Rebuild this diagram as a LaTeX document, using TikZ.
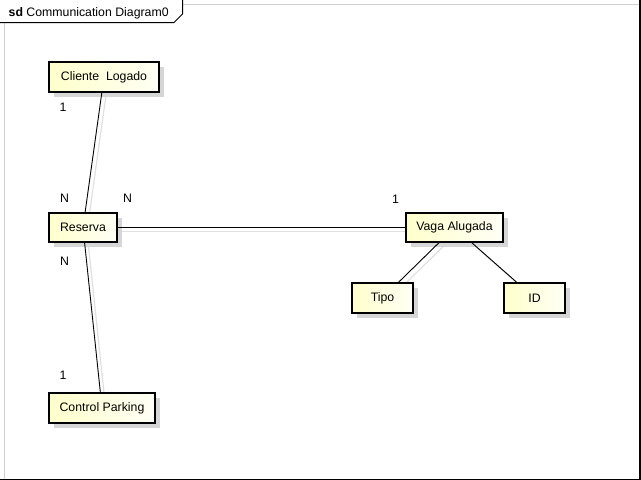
\documentclass[tikz,border=0pt]{standalone}
\usepackage{fontspec}
\setmainfont{Liberation Sans}
\usetikzlibrary{shadows,backgrounds}
\tikzset{
  umlbox/.style={draw=black, line width=1.8pt, left color=yellow!20, right color=yellow!4,
    inner sep=0pt, font=\fontsize{12.3}{14}\selectfont,
    drop shadow={shadow xshift=5pt, shadow yshift=-5pt, fill=black!16, opacity=1}},
  conn/.style={draw=black, line width=0.9pt},
  connshadow/.style={draw=black!12, line width=1.2pt},
  mult/.style={font=\fontsize{12.3}{14}\selectfont, inner sep=0pt}
}
\begin{document}
\begin{tikzpicture}[x=1pt,y=-1pt]
\useasboundingbox (0,0) rectangle (641,480);
% frame
\draw[black!18, line width=1pt] (4.5,22) -- (4.5,479);
\draw[black!18, line width=1pt] (183,4.5) -- (639,4.5);
\draw[black, line width=2pt] (639.5,0) -- (639.5,479.5) -- (0,479.5);
\draw[black, line width=1pt] (0,22.5) -- (174,22.5) -- (182.5,14) -- (182.5,0);
\node[anchor=west, inner sep=0pt, font=\fontsize{12.3}{14}\selectfont] (title) at (8.5,13) {\textbf{sd} Communication Diagram0};
% boxes
\node[umlbox, minimum width=110pt, minimum height=30pt] (cl) at (104,77) {Cliente\ \ Logado};
\node[umlbox, minimum width=68pt, minimum height=29pt] (rs) at (83,227.5) {Reserva};
\node[umlbox, minimum width=106pt, minimum height=30pt] (cp) at (102,408) {Control Parking};
\node[umlbox, minimum width=97pt, minimum height=29pt] (va) at (454.5,227.5) {Vaga Alugada};
\node[umlbox, minimum width=61pt, minimum height=30pt] (tp) at (382.5,298) {Tipo};
\node[umlbox, minimum width=61pt, minimum height=30pt] (id) at (534.5,298) {ID};
% connector shadows
\begin{pgfonlayer}{background}
\draw[connshadow] ([shift={(4,4)}]cl.center) -- ([shift={(4,4)}]rs.center);
\draw[connshadow] ([shift={(4,4)}]rs.center) -- ([shift={(4,4)}]cp.center);
\draw[connshadow] ([shift={(4,4)}]rs.center) -- ([shift={(4,4)}]va.center);
\draw[connshadow] ([shift={(4,4)}]va.center) -- ([shift={(4,4)}]tp.center);
\draw[connshadow] ([shift={(4,4)}]va.center) -- ([shift={(4,4)}]id.center);
\end{pgfonlayer}
% connectors
\draw[conn] (cl) -- (rs);
\draw[conn] (rs) -- (cp);
\draw[conn] (rs) -- (va);
\draw[conn] (va) -- (tp);
\draw[conn] (va) -- (id);
% multiplicities
\node[mult] (m1) at (63,107) {1};
\node[mult] (m2) at (64.5,198) {N};
\node[mult] (m3) at (127.5,198) {N};
\node[mult] (m4) at (395.5,199) {1};
\node[mult] (m5) at (64.5,261) {N};
\node[mult] (m6) at (63,375) {1};
\end{tikzpicture}
\end{document}
